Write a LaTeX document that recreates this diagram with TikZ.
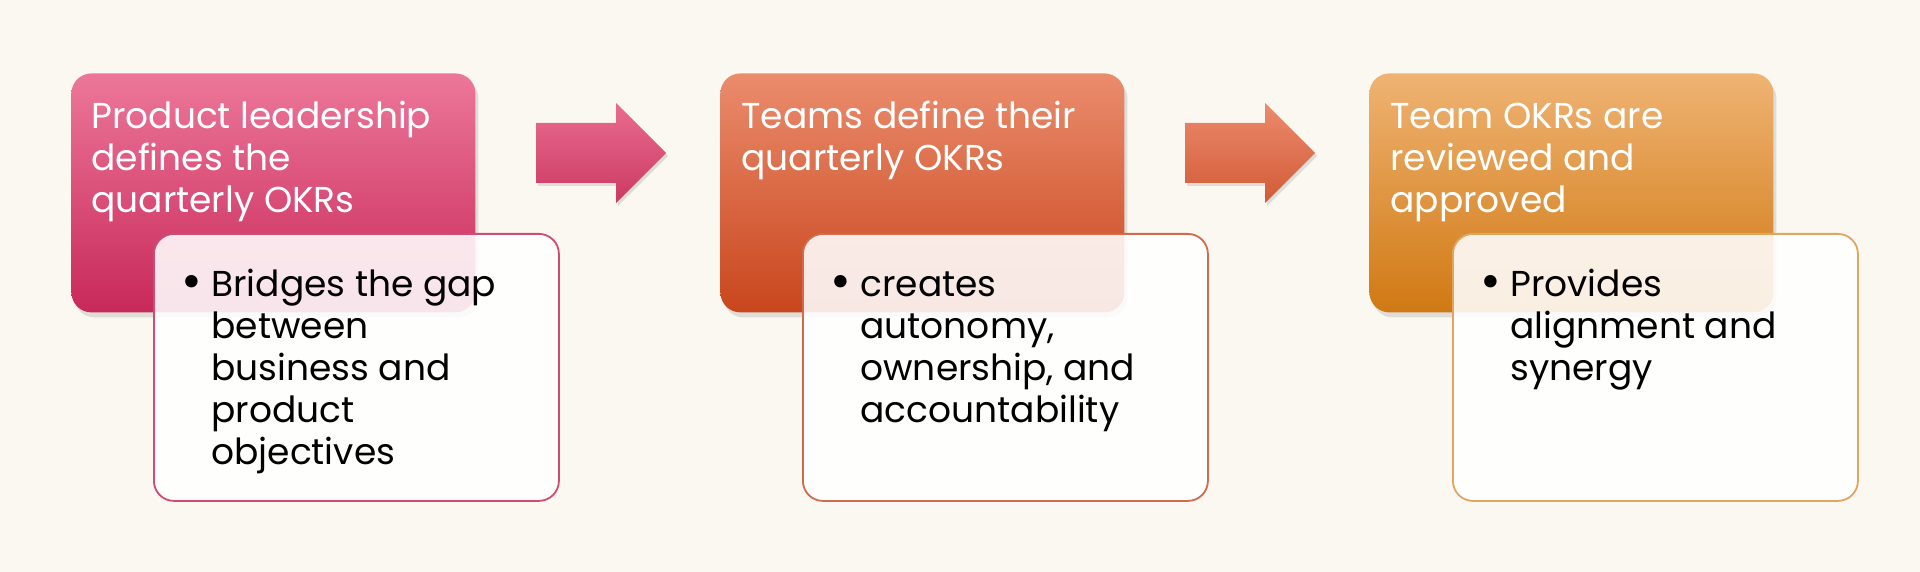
\documentclass[tikz,border=0pt]{standalone}
\usepackage{fontspec}
\usepackage{graphicx}
\setmainfont{Poppins}
\usetikzlibrary{shadows,calc}
\definecolor{bg}{HTML}{FBF8F1}
\definecolor{pinkT}{HTML}{EC7799}
\definecolor{pinkB}{HTML}{C8295A}
\definecolor{oranT}{HTML}{EA8C6D}
\definecolor{oranB}{HTML}{C9461D}
\definecolor{goldT}{HTML}{EFB373}
\definecolor{goldB}{HTML}{D07913}
\definecolor{arr1T}{HTML}{EA6C90}
\definecolor{arr1B}{HTML}{CB3963}
\definecolor{arr2T}{HTML}{EB8A6C}
\definecolor{arr2B}{HTML}{D25B36}
\definecolor{pinkL}{HTML}{CD4C74}
\definecolor{oranL}{HTML}{D26A4B}
\definecolor{goldL}{HTML}{E2A55F}
\tikzset{
  topbox/.style={rectangle, rounded corners=10pt, minimum width=202pt, minimum height=119.5pt,
    anchor=north west, inner sep=0pt, shading=axis,
    drop shadow={opacity=0.22, shadow xshift=1.5pt, shadow yshift=-2.5pt}},
  subbox/.style={rectangle, rounded corners=10pt, minimum width=202.5pt, minimum height=133.5pt,
    anchor=north west, inner sep=0pt, fill=white, fill opacity=0.88, line width=0.9pt},
  toptext/.style={anchor=base west, inner sep=0pt, text=white,
    font=\fontsize{18}{21}\selectfont},
  subtext/.style={anchor=base west, inner sep=0pt, text=black,
    font=\fontsize{18}{21}\selectfont},
  blockarrow/.style={shading=axis, drop shadow={opacity=0.22, shadow xshift=1pt, shadow yshift=-1.5pt}}
}
\newcommand{\bul}{\noindent\hangindent=11pt\hangafter=1\makebox[11pt][l]{\hspace*{-4pt}\raisebox{-1.5pt}{\scalebox{1.4}{•}}}}
\begin{document}
\begin{tikzpicture}[x=0.5pt,y=-0.5pt]
\useasboundingbox (0,0) rectangle (1920,572);
\fill[bg] (0,0) rectangle (1920,572);

% top boxes
\node[topbox, top color=pinkT, bottom color=pinkB] (b1) at (71,73) {};
\node[topbox, top color=oranT, bottom color=oranB] (b2) at (720,73) {};
\node[topbox, top color=goldT, bottom color=goldB] (b3) at (1369,73) {};

\node[toptext] (t1) at (91,129) {\parbox[t]{195pt}{\raggedright Product leadership\\defines the\\quarterly OKRs}};
\node[toptext] (t2) at (741,129) {\parbox[t]{195pt}{\raggedright Teams define their\\quarterly OKRs}};
\node[toptext] (t3) at (1390,129) {\parbox[t]{195pt}{\raggedright Team OKRs are\\reviewed and\\approved}};

% arrows
\coordinate (a1) at (536,153);
\coordinate (a2) at (1185,153);
\path[blockarrow, top color=arr1T, bottom color=arr1B]
  ($(a1)+(0,-30)$) -- ($(a1)+(80,-30)$) -- ($(a1)+(80,-50)$) -- ($(a1)+(130,0)$)
  -- ($(a1)+(80,50)$) -- ($(a1)+(80,30)$) -- ($(a1)+(0,30)$) -- cycle;
\path[blockarrow, top color=arr2T, bottom color=arr2B]
  ($(a2)+(0,-30)$) -- ($(a2)+(80,-30)$) -- ($(a2)+(80,-50)$) -- ($(a2)+(130,0)$)
  -- ($(a2)+(80,50)$) -- ($(a2)+(80,30)$) -- ($(a2)+(0,30)$) -- cycle;

% sub boxes
\node[subbox, draw=pinkL] (w1) at (153,233) {};
\node[subbox, draw=oranL] (w2) at (802,233) {};
\node[subbox, draw=goldL] (w3) at (1452,233) {};

\node[subtext] (s1) at (189,296) {\parbox[t]{175pt}{\bul Bridges the gap\\between\\business and\\product\\objectives}};
\node[subtext] (s2) at (838,296) {\parbox[t]{175pt}{\bul creates\\autonomy,\\ownership, and\\accountability}};
\node[subtext] (s3) at (1488,296) {\parbox[t]{175pt}{\bul Provides\\alignment and\\synergy}};
\end{tikzpicture}
\end{document}
